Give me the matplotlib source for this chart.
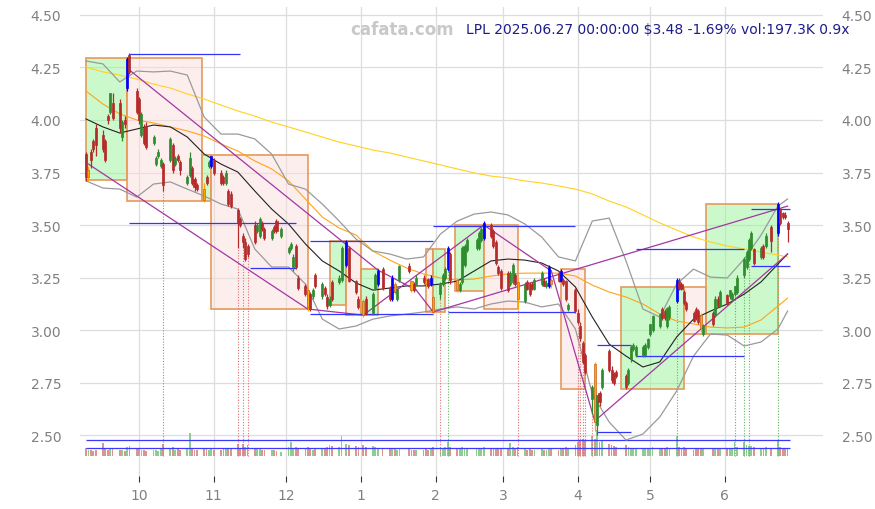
import numpy as np
import pandas as pd
import matplotlib
matplotlib.use("Agg")
import matplotlib.pyplot as plt
import matplotlib.dates as mdates
from matplotlib.patches import Rectangle
from matplotlib.ticker import FixedLocator, FormatStrFormatter, FuncFormatter

# ---- daily bars, LPL, 2024-09-09 .. 2025-06-27 (NYSE trading days) ----
holidays = ["2024-11-28", "2024-12-25", "2025-01-01", "2025-01-09", "2025-01-20",
            "2025-02-17", "2025-04-18", "2025-05-26", "2025-06-19"]
days = pd.bdate_range("2024-09-09", "2025-06-27")
days = days[~days.isin(pd.to_datetime(holidays))]

opens = [
    3.84, 3.73, 3.85, 3.90, 3.96, 3.93, 3.90, 4.02, 4.04, 4.08, 4.08, 3.92, 4.00, 4.15, 4.31, 4.14,  # sep
    4.10, 3.93, 3.96, 3.97, 3.89, 3.79, 3.83, 3.78, 3.79, 3.81, 3.88, 3.79, 3.83, 3.80, 3.70, 3.74,
    3.77, 3.72, 3.69, 3.67, 3.73, 3.78, 3.78,  # oct
    3.81, 3.75, 3.73, 3.70, 3.66, 3.65, 3.57, 3.53, 3.45, 3.42, 3.40, 3.50, 3.47, 3.45, 3.51, 3.48,
    3.44, 3.49, 3.52, 3.45,  # nov
    3.37, 3.39, 3.30, 3.40, 3.25, 3.21, 3.19, 3.17, 3.16, 3.26, 3.16, 3.20, 3.155, 3.12, 3.23, 3.23,
    3.24, 3.31, 3.39, 3.235, 3.15,  # dec
    3.14, 3.15, 3.08, 3.195, 3.22, 3.29, 3.20, 3.15, 3.22, 3.15, 3.24, 3.305, 3.235, 3.22, 3.22, 3.25,
    3.24, 3.245, 3.22, 3.155,  # jan
    3.17, 3.22, 3.25, 3.29, 3.36, 3.24, 3.19, 3.23, 3.31, 3.38, 3.39, 3.39, 3.43, 3.44, 3.50, 3.47,
    3.42, 3.30, 3.28,  # feb
    3.27, 3.22, 3.23, 3.26, 3.23, 3.14, 3.23, 3.22, 3.22, 3.195, 3.22, 3.235, 3.21, 3.21, 3.24, 3.27,
    3.235, 3.24, 3.235, 3.10, 3.19,  # mar
    3.08, 3.02, 2.94, 2.88, 2.67, 2.84, 2.55, 2.70, 2.73, 2.90, 2.81, 2.79, 2.80, 2.78, 2.75, 2.86,
    2.91, 2.88, 2.88, 2.88, 2.92,  # apr
    2.98, 3.00, 3.02, 3.10, 3.09, 3.02, 3.06, 3.14, 3.235, 3.22, 3.18, 3.13, 3.08, 3.10, 3.09, 3.07,
    2.98, 3.08, 3.07, 3.15, 3.115,  # may
    3.165, 3.16, 3.15, 3.17, 3.18, 3.26, 3.30, 3.34, 3.39, 3.385, 3.35, 3.40, 3.40, 3.49, 3.46, 3.57,
    3.556, 3.55, 3.51,  # jun
]
highs = [
    3.85, 3.78, 3.86, 3.91, 3.98, 3.95, 3.91, 4.03, 4.13, 4.13, 4.10, 4.00, 4.02, 4.30, 4.32, 4.15,
    4.11, 4.04, 3.98, 3.99, 3.93, 3.83, 3.86, 3.82, 3.80, 3.92, 3.89, 3.83, 3.84, 3.81, 3.74, 3.85,
    3.78, 3.73, 3.70, 3.70, 3.74, 3.81, 3.83,
    3.82, 3.76, 3.74, 3.76, 3.67, 3.66, 3.58, 3.54, 3.46, 3.44, 3.41, 3.52, 3.51, 3.54, 3.52, 3.49,
    3.48, 3.50, 3.53, 3.49,
    3.40, 3.42, 3.36, 3.41, 3.26, 3.22, 3.20, 3.18, 3.20, 3.27, 3.23, 3.21, 3.17, 3.16, 3.24, 3.26,
    3.40, 3.43, 3.40, 3.24, 3.16,
    3.15, 3.16, 3.18, 3.27, 3.29, 3.30, 3.21, 3.26, 3.23, 3.20, 3.31, 3.32, 3.24, 3.23, 3.26, 3.26,
    3.25, 3.25, 3.26, 3.16,
    3.23, 3.27, 3.30, 3.40, 3.37, 3.25, 3.23, 3.40, 3.41, 3.44, 3.44, 3.47, 3.49, 3.52, 3.51, 3.48,
    3.43, 3.31, 3.29,
    3.28, 3.28, 3.32, 3.27, 3.24, 3.23, 3.24, 3.23, 3.23, 3.25, 3.28, 3.25, 3.24, 3.31, 3.25, 3.28,
    3.29, 3.25, 3.24, 3.13, 3.20,
    3.10, 3.04, 2.95, 2.89, 2.74, 2.85, 2.69, 2.71, 2.82, 2.91, 2.83, 2.80, 2.81, 2.79, 2.82, 2.93,
    2.94, 2.93, 2.93, 2.94, 2.96,
    3.03, 3.07, 3.08, 3.11, 3.10, 3.11, 3.12, 3.25, 3.25, 3.23, 3.19, 3.14, 3.09, 3.11, 3.10, 3.08,
    3.03, 3.09, 3.16, 3.16, 3.19,
    3.17, 3.19, 3.18, 3.21, 3.26, 3.35, 3.38, 3.44, 3.47, 3.39, 3.40, 3.41, 3.46, 3.50, 3.61, 3.58,
    3.56, 3.56, 3.52,
]
lows = [
    3.71, 3.71, 3.77, 3.85, 3.83, 3.85, 3.80, 3.98, 4.03, 4.00, 3.94, 3.90, 3.96, 4.14, 4.22, 4.03,
    3.98, 3.92, 3.88, 3.86, 3.88, 3.78, 3.82, 3.77, 3.66, 3.80, 3.75, 3.78, 3.80, 3.74, 3.69, 3.73,
    3.69, 3.66, 3.66, 3.61, 3.69, 3.77, 3.77,
    3.74, 3.69, 3.69, 3.69, 3.59, 3.58, 3.39, 3.49, 3.39, 3.33, 3.35, 3.41, 3.46, 3.44, 3.47, 3.43,
    3.43, 3.46, 3.46, 3.44,
    3.36, 3.38, 3.28, 3.29, 3.19, 3.16, 3.09, 3.09, 3.15, 3.20, 3.15, 3.16, 3.10, 3.11, 3.14, 3.22,
    3.23, 3.30, 3.23, 3.17, 3.10,
    3.06, 3.07, 3.07, 3.19, 3.21, 3.19, 3.14, 3.14, 3.17, 3.14, 3.23, 3.27, 3.18, 3.18, 3.21, 3.22,
    3.21, 3.20, 3.21, 3.07,
    3.15, 3.21, 3.24, 3.28, 3.22, 3.18, 3.18, 3.22, 3.30, 3.37, 3.38, 3.38, 3.42, 3.43, 3.44, 3.39,
    3.31, 3.26, 3.19,
    3.18, 3.21, 3.22, 3.21, 3.10, 3.13, 3.19, 3.16, 3.19, 3.19, 3.21, 3.21, 3.20, 3.20, 3.20, 3.23,
    3.23, 3.21, 3.14, 3.09, 3.08,
    3.03, 2.95, 2.84, 2.79, 2.60, 2.52, 2.50, 2.64, 2.72, 2.80, 2.75, 2.74, 2.77, 2.72, 2.74, 2.85,
    2.90, 2.87, 2.87, 2.87, 2.91,
    2.97, 2.99, 3.01, 3.05, 3.05, 3.01, 3.05, 3.13, 3.19, 3.19, 3.12, 3.09, 3.04, 3.05, 3.03, 2.99,
    2.97, 3.02, 3.06, 3.11, 3.11,
    3.12, 3.15, 3.14, 3.16, 3.17, 3.25, 3.29, 3.33, 3.38, 3.31, 3.34, 3.34, 3.39, 3.37, 3.45, 3.50,
    3.53, 3.53, 3.42,
]
closes = [
    3.73, 3.76, 3.81, 3.86, 3.88, 3.86, 3.81, 4.00, 4.13, 4.01, 3.96, 3.99, 3.98, 4.29, 4.23, 4.04,
    4.00, 4.03, 3.89, 3.87, 3.92, 3.82, 3.85, 3.81, 3.69, 3.91, 3.76, 3.82, 3.81, 3.76, 3.73, 3.82,
    3.70, 3.68, 3.67, 3.62, 3.70, 3.80, 3.83,
    3.75, 3.70, 3.70, 3.75, 3.60, 3.59, 3.51, 3.50, 3.42, 3.34, 3.36, 3.42, 3.50, 3.53, 3.48, 3.44,
    3.47, 3.47, 3.47, 3.48,
    3.39, 3.41, 3.35, 3.30, 3.20, 3.17, 3.11, 3.10, 3.19, 3.21, 3.22, 3.17, 3.115, 3.15, 3.15, 3.25,
    3.39, 3.42, 3.235, 3.18, 3.11,
    3.07, 3.08, 3.17, 3.26, 3.28, 3.20, 3.15, 3.25, 3.18, 3.195, 3.305, 3.28, 3.19, 3.19, 3.25, 3.23,
    3.22, 3.21, 3.25, 3.085,
    3.22, 3.26, 3.29, 3.39, 3.24, 3.19, 3.22, 3.39, 3.40, 3.43, 3.43, 3.46, 3.48, 3.51, 3.45, 3.40,
    3.32, 3.27, 3.20,
    3.19, 3.27, 3.31, 3.22, 3.15, 3.22, 3.195, 3.17, 3.20, 3.24, 3.27, 3.21, 3.225, 3.30, 3.22, 3.235,
    3.28, 3.22, 3.15, 3.12, 3.09,
    3.04, 2.96, 2.85, 2.80, 2.73, 2.56, 2.69, 2.655, 2.81, 2.81, 2.76, 2.75, 2.78, 2.73, 2.81, 2.92,
    2.93, 2.92, 2.92, 2.93, 2.955,
    3.03, 3.065, 3.075, 3.055, 3.055, 3.105, 3.11, 3.24, 3.20, 3.195, 3.13, 3.10, 3.045, 3.06, 3.04, 3.01,
    3.02, 3.03, 3.15, 3.115, 3.18,
    3.125, 3.19, 3.17, 3.21, 3.25, 3.34, 3.37, 3.43, 3.46, 3.32, 3.39, 3.35, 3.45, 3.425, 3.60, 3.51,
    3.536, 3.54, 3.48,
]
volumes = [  # thousand shares
    230, 180, 160, 150, 170, 360, 200, 160, 230, 190, 170, 160, 150, 250, 280, 200,
    190, 170, 160, 150, 170, 180, 150, 200, 330, 200, 240, 170, 190, 160, 230, 640, 200, 180, 160, 220,
    190, 170, 200,
    180, 170, 190, 200, 230, 210, 340, 220, 330, 260, 310, 200, 210, 190, 170, 160, 180, 170, 150, 120,
    250, 380, 230, 260, 230, 200, 260, 210, 180, 200, 190, 220, 250, 300, 280, 260, 560, 330, 300, 280, 260,
    300, 260, 280, 250, 230, 220, 210, 200, 190, 180, 200, 190, 170, 160, 180, 170, 190, 180, 200, 240,
    230, 220, 260, 380, 240, 200, 190, 250, 230, 220, 200, 220, 210, 260, 230, 200, 210, 200, 220,
    220, 360, 240, 210, 250, 200, 180, 190, 170, 180, 200, 180, 170, 220, 190, 180, 230, 200, 240, 230, 320,
    400, 420, 480, 450, 560, 480, 720, 380, 420, 330, 300, 280, 260, 300, 250, 230, 220, 200, 210, 220, 230,
    230, 250, 220, 200, 190, 240, 210, 560, 260, 220, 240, 200, 180, 190, 200, 230, 200, 210, 230, 200, 220,
    200, 220, 230, 400, 250, 400, 300, 290, 280, 240, 230, 220, 250, 210, 430, 260, 220, 200, 197,
]
avg_vol = 219

# pivot candles
hi_dates = ["2024-09-26", "2024-10-31", "2024-12-26", "2025-01-08", "2025-01-14", "2025-01-30",
            "2025-02-06", "2025-02-21", "2025-03-20", "2025-03-25", "2025-05-12", "2025-06-23"]
lo_dates = ["2024-09-10", "2024-10-28", "2024-12-10", "2025-01-02", "2025-01-15", "2025-01-22",
            "2025-01-28", "2025-01-31", "2025-02-10", "2025-03-07", "2025-03-21", "2025-04-08",
            "2025-05-22"]
sig_red = ["2024-10-11", "2024-11-11", "2024-11-13", "2024-11-15", "2025-02-03", "2025-03-07",
           "2025-04-01", "2025-04-02", "2025-04-03", "2025-04-04", "2025-04-07"]
sig_green = ["2025-02-06", "2025-05-12", "2025-06-05", "2025-06-09", "2025-06-11", "2025-06-23"]

# moving averages / bands, read weekly
ma_dates = list(pd.date_range("2024-09-09", periods=42, freq="7D")) + [pd.Timestamp("2025-06-27")]
ma_black = [4.005, 3.967, 3.938, 3.957, 3.976, 3.967, 3.919, 3.838, 3.79, 3.752, 3.662, 3.576, 3.505,
            3.41, 3.329, 3.281, 3.224, 3.19, 3.2, 3.21, 3.21, 3.219, 3.233, 3.281, 3.329, 3.338, 3.333,
            3.319, 3.281, 3.205, 3.062, 2.933, 2.876, 2.824, 2.848, 2.967, 3.052, 3.09, 3.124, 3.171,
            3.229, 3.314, 3.362]
ma_orange = [4.138, 4.076, 4.029, 4.0, 3.986, 3.967, 3.948, 3.924, 3.886, 3.852, 3.805, 3.767, 3.71,
             3.624, 3.538, 3.486, 3.452, 3.376, 3.333, 3.295, 3.267, 3.248, 3.238, 3.243, 3.257, 3.267,
             3.271, 3.271, 3.271, 3.257, 3.214, 3.181, 3.157, 3.124, 3.076, 3.043, 3.029, 3.014, 3.01,
             3.014, 3.048, 3.114, 3.152]
ma_gold = [4.252, 4.229, 4.214, 4.195, 4.171, 4.152, 4.124, 4.1, 4.071, 4.043, 4.019, 3.99, 3.967,
           3.943, 3.919, 3.895, 3.876, 3.857, 3.843, 3.824, 3.805, 3.786, 3.767, 3.748, 3.733, 3.724,
           3.71, 3.7, 3.686, 3.671, 3.648, 3.614, 3.586, 3.548, 3.51, 3.476, 3.443, 3.419, 3.4, 3.386,
           3.371, 3.357, 3.348]
bb_up = [4.281, 4.267, 4.181, 4.233, 4.229, 4.233, 4.214, 4.014, 3.933, 3.933, 3.91, 3.838, 3.695,
         3.671, 3.6, 3.519, 3.433, 3.376, 3.362, 3.338, 3.348, 3.457, 3.519, 3.552, 3.562, 3.548, 3.505,
         3.443, 3.348, 3.329, 3.519, 3.533, 3.329, 3.1, 3.062, 3.219, 3.29, 3.252, 3.248, 3.338, 3.452,
         3.59, 3.624]
bb_lo = [3.71, 3.676, 3.671, 3.633, 3.695, 3.705, 3.671, 3.638, 3.6, 3.576, 3.386, 3.3, 3.3, 3.219,
         3.052, 3.005, 3.019, 3.052, 3.067, 3.076, 3.086, 3.1, 3.11, 3.1, 3.124, 3.138, 3.133, 3.11,
         3.124, 3.005, 2.695, 2.562, 2.476, 2.505, 2.586, 2.71, 2.876, 2.981, 2.976, 2.924, 2.943,
         3.005, 3.09]

# zigzag boxes
box_x1 = ["2024-09-09", "2024-09-26", "2024-10-27", "2024-10-31", "2024-12-19", "2024-12-26",
          "2025-01-01", "2025-01-28", "2025-01-31", "2025-02-09", "2025-02-21", "2025-03-25",
          "2025-04-19", "2025-05-15", "2025-05-24"]
box_x2 = ["2024-09-26", "2024-10-27", "2024-10-31", "2024-12-10", "2024-12-26", "2025-01-01",
          "2025-01-08", "2025-01-31", "2025-02-05", "2025-02-21", "2025-03-07", "2025-04-04",
          "2025-05-15", "2025-05-24", "2025-06-23"]
box_lo = [3.714, 3.614, 3.614, 3.10, 3.12, 3.071, 3.071, 3.086, 3.086, 3.186, 3.10, 2.72, 2.72, 2.98, 2.98]
box_hi = [4.295, 4.295, 3.833, 3.833, 3.424, 3.424, 3.29, 3.386, 3.386, 3.50, 3.50, 3.29, 3.205, 3.205, 3.60]
box_up = [1, 0, 1, 0, 1, 0, 1, 0, 1, 1, 0, 0, 1, 0, 1]

# trend lines
tr_x1 = ["2024-09-10", "2024-09-27", "2024-12-10", "2025-01-02", "2025-01-08", "2025-01-24",
         "2025-01-31", "2025-02-21", "2025-03-21", "2025-04-08"]
tr_y1 = [3.79, 4.238, 3.10, 3.071, 3.286, 3.19, 3.086, 3.50, 3.281, 2.567]
tr_x2 = ["2024-12-10", "2025-01-08", "2025-01-02", "2025-02-21", "2025-01-24", "2025-01-31",
         "2025-06-27", "2025-03-21", "2025-04-08", "2025-06-27"]
tr_y2 = [3.10, 3.286, 3.071, 3.50, 3.19, 3.086, 3.59, 3.281, 2.567, 3.362]

# support / resistance levels
lvl_x1 = ["2024-09-27", "2024-09-27", "2024-11-16", "2024-12-11", "2024-12-11", "2025-01-31",
          "2025-02-06", "2025-04-09", "2025-04-25", "2025-04-09", "2025-04-25", "2025-06-12", "2025-06-12"]
lvl_x2 = ["2024-11-12", "2024-12-05", "2024-12-05", "2025-01-31", "2025-01-31", "2025-03-31",
          "2025-03-31", "2025-04-23", "2025-06-09", "2025-04-23", "2025-06-09", "2025-06-28", "2025-06-28"]
lvl_y = [4.314, 3.51, 3.295, 3.424, 3.076, 3.495, 3.086, 2.929, 2.876, 2.514, 3.386, 3.576, 3.305]


def dn(s):
    return mdates.date2num(pd.to_datetime(s))


fig = plt.figure(figsize=(8.75, 5.1), dpi=100)
ax = fig.add_axes([80 / 875, 33 / 510, 743 / 875, 469 / 510])

x = mdates.date2num(days)
o, h, l, c = (np.array(a, dtype=float) for a in (opens, highs, lows, closes))
up = c >= o

# boxes
for x1, x2, lo, hi, u in zip(box_x1, box_x2, box_lo, box_hi, box_up):
    fc = (0.60, 0.96, 0.60, 0.5) if u else (0.99, 0.87, 0.87, 0.5)
    ax.add_patch(Rectangle((dn(x1), lo), dn(x2) - dn(x1), hi - lo, facecolor=fc,
                           edgecolor="#e6995a", lw=1.2, zorder=1))

# volume
vol_base, vol_k = 2.40, 0.00017
vcol = np.where(up, "#8fcc8f", "#db9494")
ax.bar(x, np.array(volumes) * vol_k, bottom=vol_base, width=0.75, color=vcol, zorder=2)
ax.hlines([vol_base + avg_vol * vol_k, vol_base + 2 * avg_vol * vol_k], x[0], dn("2025-06-28"),
          colors="#3a3aff", lw=0.9, zorder=3)

# signal lines
idx = {d: i for i, d in enumerate(days)}
for s in sig_red:
    i = idx[pd.Timestamp(s)]
    ax.vlines(x[i], vol_base, l[i], colors="#e07070", linestyles=(0, (1, 1.5)), lw=0.8, zorder=2)
for s in sig_green:
    i = idx[pd.Timestamp(s)]
    ax.vlines(x[i], vol_base, l[i], colors="#5cb85c", linestyles=(0, (1, 1.5)), lw=0.8, zorder=2)

# averages and bands
mx = mdates.date2num(pd.DatetimeIndex(ma_dates))
ax.plot(mx, ma_gold, color="#ffd21f", lw=0.8, zorder=3)
ax.plot(mx, ma_orange, color="#ffa31a", lw=0.8, zorder=3)
ax.plot(mx, bb_up, color="#9a9a9a", lw=0.9, zorder=3)
ax.plot(mx, bb_lo, color="#9a9a9a", lw=0.9, zorder=3)
ax.plot(mx, ma_black, color="#222222", lw=0.8, zorder=3)

# trend lines and levels
for x1, y1, x2, y2 in zip(tr_x1, tr_y1, tr_x2, tr_y2):
    ax.plot([dn(x1), dn(x2)], [y1, y2], color="#a336a3", lw=0.9, zorder=3)
ax.hlines(lvl_y, [dn(s) for s in lvl_x1], [dn(s) for s in lvl_x2], colors="#3434ff", lw=0.9, zorder=3)

# candles
col = np.where(up, "#2e8b2e", "#b52a2a").astype(object)
edge = col.copy()
for s in hi_dates:
    i = idx[pd.Timestamp(s)]
    col[i] = edge[i] = "#0000ff"
for s in lo_dates:
    i = idx[pd.Timestamp(s)]
    col[i] = "#ffa500"
    edge[i] = "#c8641e"
ax.vlines(x, l, h, colors=list(col), lw=0.9, zorder=4)
ax.bar(x, np.maximum(np.abs(c - o), 0.006), bottom=np.minimum(o, c), width=0.85,
       color=list(col), edgecolor=list(edge), lw=0.5, zorder=5)

# axes
d0 = dn("2024-09-09")
ax.set_xlim(d0 - 2.5, d0 + 305.7)
ax.set_ylim(2.305, 4.538)
ax.yaxis.set_major_locator(FixedLocator(np.arange(2.5, 4.51, 0.25)))
ax.yaxis.set_major_formatter(FormatStrFormatter("%.2f"))
ax.xaxis.set_major_locator(mdates.MonthLocator(bymonth=[1, 2, 3, 4, 5, 6, 10, 11, 12]))
ax.xaxis.set_major_formatter(FuncFormatter(lambda v, p: str(mdates.num2date(v).month)))
ax.tick_params(axis="y", left=False, right=False, labelleft=True, labelright=True,
               labelsize=10, labelcolor="#808080", pad=10)
ax.tick_params(axis="x", length=4, color="#333333", labelsize=10, labelcolor="#808080", pad=5)
for sp in ax.spines.values():
    sp.set_visible(False)
ax.grid(True, color="#dddddd", lw=0.9)
ax.set_axisbelow(True)

fig.text(402 / 875, 1 - 30 / 510, "cafata.com", ha="center", va="center",
         color="#c8c8c8", fontsize=12, fontweight="bold")
fig.text(850 / 875, 1 - 30 / 510, "LPL 2025.06.27 00:00:00 $3.48 -1.69% vol:197.3K 0.9x",
         ha="right", va="center", color="#1c1c8c", fontsize=10)

fig.savefig("out.png", dpi=100)
